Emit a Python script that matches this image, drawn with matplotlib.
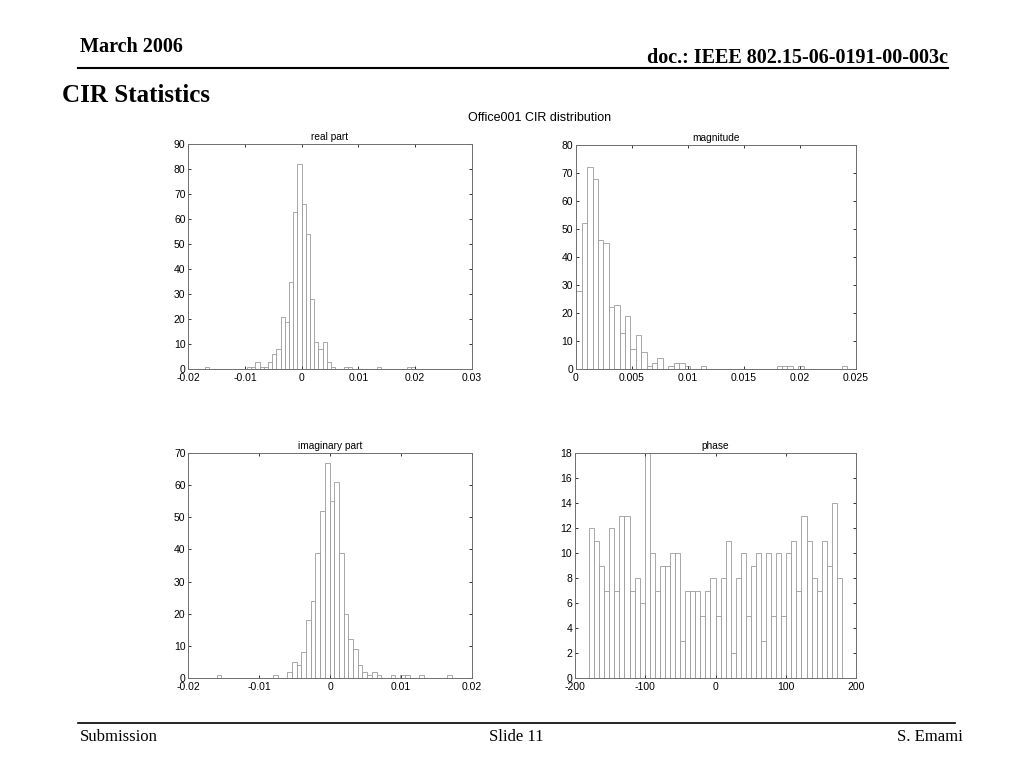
import numpy as np
from matplotlib import pyplot as plt
from matplotlib.lines import Line2D

# Histogram counts (50 bins each)
real_range = (-0.01704, 0.0200)
real_counts = [1, 0, 0, 0, 0, 0, 0, 0, 0, 0,
               1, 1, 3, 1, 1, 3, 6, 8, 21, 19,
               35, 63, 82, 66, 54, 28, 11, 8, 11, 3,
               1, 0, 0, 1, 1, 0, 0, 0, 0, 0,
               0, 1, 0, 0, 0, 0, 0, 0, 1, 1]

mag_range = (0.00005, 0.0242)
mag_counts = [28, 52, 72, 68, 46, 45, 22, 23, 13, 19,
              7, 12, 6, 1, 2, 4, 0, 1, 2, 2,
              1, 0, 0, 1, 0, 0, 0, 0, 0, 0,
              0, 0, 0, 0, 0, 0, 0, 1, 1, 1,
              0, 1, 0, 0, 0, 0, 0, 0, 0, 1]

imag_range = (-0.0160, 0.0172)
imag_counts = [1, 0, 0, 0, 0, 0, 0, 0, 0, 0,
               0, 0, 1, 0, 0, 2, 5, 4, 8, 18,
               24, 39, 52, 67, 55, 61, 39, 20, 12, 9,
               4, 2, 1, 2, 1, 0, 0, 1, 0, 1,
               1, 0, 0, 1, 0, 0, 0, 0, 0, 1]

phase_range = (-180, 180)
phase_counts = [12, 11, 9, 7, 12, 7, 13, 13, 7, 8,
                6, 18, 10, 7, 9, 9, 10, 10, 3, 7,
                7, 7, 5, 7, 8, 5, 8, 11, 2, 8,
                10, 5, 9, 10, 3, 10, 5, 10, 5, 10,
                11, 7, 13, 11, 8, 7, 11, 9, 14, 8]

# Axis ticks
real_xticks = [-0.02, -0.01, 0, 0.01, 0.02, 0.03]
real_xlabels = ['-0.02', '-0.01', '0', '0.01', '0.02', '0.03']
mag_xticks = [0, 0.005, 0.01, 0.015, 0.02, 0.025]
mag_xlabels = ['0', '0.005', '0.01', '0.015', '0.02', '0.025']
imag_xticks = [-0.02, -0.01, 0, 0.01, 0.02]
imag_xlabels = ['-0.02', '-0.01', '0', '0.01', '0.02']
phase_xticks = [-200, -100, 0, 100, 200]
phase_xlabels = ['-200', '-100', '0', '100', '200']

W, H = 1024, 768
fig = plt.figure(figsize=(10.24, 7.68), dpi=100)
fig.patch.set_facecolor('white')
plt.rcParams['font.family'] = ['Liberation Sans', 'DejaVu Sans']

def rect(l, t, r, b):
    return [l / W, 1 - b / H, (r - l) / W, (b - t) / H]

def hist_panel(pos, counts, rng, title, xticks, xlabels, ymax, ystep):
    ax = fig.add_axes(pos)
    n = len(counts)
    edges = np.linspace(rng[0], rng[1], n + 1)
    centers = (edges[:-1] + edges[1:]) / 2
    ax.bar(centers, counts, width=edges[1] - edges[0], facecolor='white',
           edgecolor='#9a9a9a', linewidth=0.6)
    ax.set_xlim(xticks[0], xticks[-1])
    ax.set_ylim(0, ymax)
    ax.set_xticks(xticks)
    ax.set_xticklabels(xlabels)
    ax.set_yticks(np.arange(0, ymax + ystep / 2, ystep))
    ax.tick_params(direction='in', top=True, right=True, length=2.5,
                   width=0.7, labelsize=7.5, color='#333333')
    ax.tick_params(axis='x', pad=3)
    ax.tick_params(axis='y', pad=2)
    for s in ax.spines.values():
        s.set_color('#6e6e6e')
        s.set_linewidth(0.7)
    ax.set_title(title, fontsize=7.3, pad=3)
    return ax

hist_panel(rect(188.3, 144, 471.7, 369), real_counts, real_range, 'real part',
           real_xticks, real_xlabels, 90, 10)
hist_panel(rect(575.7, 145, 856, 369), mag_counts, mag_range, 'magnitude',
           mag_xticks, mag_xlabels, 80, 10)
hist_panel(rect(188.3, 453, 471.7, 678), imag_counts, imag_range, 'imaginary part',
           imag_xticks, imag_xlabels, 70, 10)
hist_panel(rect(575, 453, 856, 678), phase_counts, phase_range, 'phase',
           phase_xticks, phase_xlabels, 18, 2)

fig.text(540 / W, 1 - 118 / H, 'Office001 CIR distribution', ha='center', va='center',
         fontsize=9, family='Liberation Sans')

# Slide header / footer
serif = 'Liberation Serif'
fig.text(80 / W, 1 - 47 / H, 'March 2006', ha='left', va='center',
         fontsize=14.5, fontweight='bold', family=serif)
fig.text(948 / W, 1 - 58 / H, 'doc.: IEEE 802.15-06-0191-00-003c', ha='right', va='center',
         fontsize=14.5, fontweight='bold', family=serif)
fig.add_artist(Line2D([78 / W, 948 / W], [1 - 68 / H, 1 - 68 / H], color='black', lw=1.5))
fig.text(62 / W, 1 - 95 / H, 'CIR Statistics', ha='left', va='center',
         fontsize=18, fontweight='bold', family=serif)

fig.add_artist(Line2D([78 / W, 955 / W], [1 - 723 / H, 1 - 723 / H], color='black', lw=1.2))
fig.text(80 / W, 1 - 737 / H, 'Submission', ha='left', va='center', fontsize=12, family=serif)
fig.text(516 / W, 1 - 737 / H, 'Slide 11', ha='center', va='center', fontsize=12, family=serif)
fig.text(963 / W, 1 - 737 / H, 'S. Emami', ha='right', va='center', fontsize=12, family=serif)

fig.savefig('out.png', dpi=100)
